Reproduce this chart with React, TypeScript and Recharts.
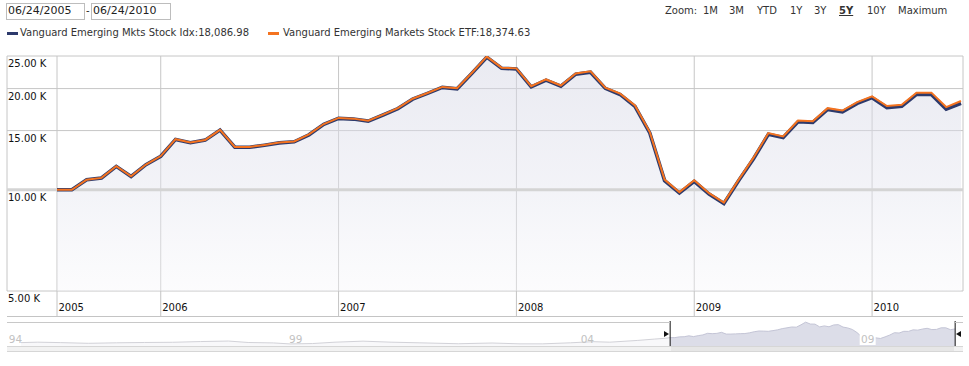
import React from 'react';
import { ComposedChart, AreaChart, Area, Line, XAxis, YAxis, CartesianGrid, ReferenceLine } from 'recharts';

const FONT = '"DejaVu Sans", Verdana, sans-serif';

const months = [
  '2005-06','2005-07','2005-08','2005-09','2005-10','2005-11','2005-12',
  '2006-01','2006-02','2006-03','2006-04','2006-05','2006-06','2006-07','2006-08','2006-09','2006-10','2006-11','2006-12',
  '2007-01','2007-02','2007-03','2007-04','2007-05','2007-06','2007-07','2007-08','2007-09','2007-10','2007-11','2007-12',
  '2008-01','2008-02','2008-03','2008-04','2008-05','2008-06','2008-07','2008-08','2008-09','2008-10','2008-11','2008-12',
  '2009-01','2009-02','2009-03','2009-04','2009-05','2009-06','2009-07','2009-08','2009-09','2009-10','2009-11','2009-12',
  '2010-01','2010-02','2010-03','2010-04','2010-05','2010-06','2010-07',
];

const idxValues = [
  10000,10000,10710,10840,11740,10960,11880,12580,14120,13800,
  14050,15050,13380,13380,13570,13790,13890,14570,15650,16310,
  16230,16010,16690,17440,18600,19350,20160,19970,22220,24800,
  22990,22880,20240,21190,20320,22080,22380,20030,19210,17710,
  14760,10650,9780,10600,9710,9100,10650,12370,14630,14300,
  15930,15860,17340,17050,18070,18790,17560,17710,19220,19200,
  17370,18087,
];

const etfValues = [
  10000,10000,10720,10850,11750,10970,11890,12600,14140,13820,
  14070,15080,13410,13410,13600,13820,13920,14610,15690,16360,
  16280,16060,16740,17490,18660,19410,20230,20040,22300,24900,
  23080,22970,20330,21290,20420,22190,22500,20140,19320,17820,
  14850,10720,9840,10670,9770,9160,10720,12460,14740,14410,
  16060,15990,17490,17210,18240,18970,17740,17900,19450,19450,
  17620,18375,
];

const xTickIdx = [0, 7, 19, 31, 43, 55];
const xTickLabels = ['2005', '2006', '2007', '2008', '2009', '2010'];
const yTicks = [5000, 10000, 15000, 20000, 25000];
const yTickLabels = ['5.00 K', '10.00 K', '15.00 K', '20.00 K', '25.00 K'];

const navHistYears = [1993.9,1994.2,1994.6,1995.1,1995.6,1996.1,1996.6,1997.1,1997.6,1997.95,1998.4,1998.7,1999.1,1999.5,2000.0,2000.5,2001.0,2001.7,2002.3,2002.8,2003.2,2003.7,2004.1,2004.4,2004.9,2005.2,2005.4];
const navHistValues = [5200,5600,5200,4500,5000,5300,5500,6200,6700,5300,4900,3900,4300,5600,6600,5600,5000,4100,4800,4000,4000,5000,6100,5600,7300,8600,9400];
const navTickYears = [1993.8, 1998.8, 2004, 2009];
const navTickLabels = ['94', '99', '04', '09'];

const zoomOptions = ['1M', '3M', 'YTD', '1Y', '3Y', '5Y', '10Y', 'Maximum'];
const zoomLeft = [703, 729, 757, 790, 814, 839, 867, 898];
const activeZoom = '5Y';
const startDate = '06/24/2005';
const endDate = '06/24/2010';
const seriesNames = ['Vanguard Emerging Mkts Stock Idx', 'Vanguard Emerging Markets Stock ETF'];
const lastValues = ['18,086.98', '18,374.63'];
const seriesColors = ['#2d3a6c', '#f47320'];

const selStartYear = 2005.477;

const mainData = months.map((m, i) => ({ i, month: m, idx: idxValues[i], etf: etfValues[i] }));

const navData = [
  ...navHistYears.map((y, k) => ({ year: y, all: navHistValues[k], sel: null as number | null })),
  ...months.map((m, i) => ({ year: selStartYear + i / 12, all: i === 0 ? etfValues[0] : null, sel: etfValues[i] })),
];
const selEndYear = selStartYear + (months.length - 1) / 12;

const YTick = (props: any) => {
  const { y, payload } = props;
  const k = yTicks.indexOf(payload.value);
  return (
    <text x={8} y={y + 11} fontSize={10} fill="#111" textAnchor="start" fontFamily={FONT}>
      {yTickLabels[k]}
    </text>
  );
};

const XTick = (props: any) => {
  const { x, y, payload } = props;
  const k = xTickIdx.indexOf(payload.value);
  return (
    <g>
      <line x1={x} x2={x} y1={y} y2={y + 25} stroke="#c4c4c4" strokeWidth={1} />
      <text x={x + 1.5} y={y + 20} fontSize={10} fill="#111" textAnchor="start" fontFamily={FONT}>
        {xTickLabels[k]}
      </text>
    </g>
  );
};

const NavTick = (props: any) => {
  const { x, payload } = props;
  const k = navTickYears.indexOf(payload.value);
  const inSel = payload.value > selStartYear;
  return (
    <g>
      {inSel && <rect x={x - 8} y={13} width={16} height={11} fill="#fff" />}
      <text x={x} y={22} fontSize={10.5} fill="#c2c2c2" textAnchor="middle" fontFamily={FONT}>
        {navTickLabels[k]}
      </text>
    </g>
  );
};

export default function App() {
  const txt: React.CSSProperties = { position: 'absolute', fontFamily: FONT, fontSize: 10, lineHeight: '14px', color: '#333', whiteSpace: 'nowrap' };
  return (
    <div style={{ position: 'absolute', left: 0, top: 0, width: 969, height: 366, background: '#fff', overflow: 'hidden', fontFamily: FONT }}>
      {/* date range inputs */}
      <div style={{ position: 'absolute', left: 6, top: 3, width: 77, height: 15, border: '1px solid #bdbdbd' }} />
      <div style={{ ...txt, left: 8, top: 4, color: '#222', fontSize: 11 }}>{startDate}</div>
      <div style={{ ...txt, left: 86, top: 4, color: '#222' }}>-</div>
      <div style={{ position: 'absolute', left: 91, top: 3, width: 78, height: 15, border: '1px solid #bdbdbd' }} />
      <div style={{ ...txt, left: 93, top: 4, color: '#222', fontSize: 11 }}>{endDate}</div>

      {/* zoom options */}
      <div style={{ ...txt, left: 665, top: 4 }}>Zoom:</div>
      {zoomOptions.map((z, k) => (
        <div key={z} style={{ ...txt, left: zoomLeft[k], top: 4, fontWeight: z === activeZoom ? 'bold' : 'normal', textDecoration: z === activeZoom ? 'underline' : 'none' }}>{z}</div>
      ))}

      {/* legend */}
      <div style={{ position: 'absolute', left: 7, top: 32, width: 11, height: 3, background: seriesColors[0] }} />
      <div style={{ ...txt, left: 20, top: 26 }}>{seriesNames[0]}:{lastValues[0]}</div>
      <div style={{ position: 'absolute', left: 268, top: 32, width: 11, height: 3, background: seriesColors[1] }} />
      <div style={{ ...txt, left: 283, top: 26 }}>{seriesNames[1]}:{lastValues[1]}</div>

      {/* main chart */}
      <div style={{ position: 'absolute', left: 0, top: 0 }}>
        <ComposedChart width={969} height={316} data={mainData} margin={{ top: 56, right: 6, bottom: 0, left: 6 }}>
          <defs>
            <linearGradient id="fillGrad" x1="0" y1="0" x2="0" y2="1">
              <stop offset="0%" stopColor="#d3d4e3" stopOpacity={0.8} />
              <stop offset="55%" stopColor="#e3e4ee" stopOpacity={0.75} />
              <stop offset="100%" stopColor="#f6f6fa" stopOpacity={0.6} />
            </linearGradient>
          </defs>
          <CartesianGrid stroke="#c6c6c6" strokeWidth={1} />
          <XAxis dataKey="i" type="number" domain={[-3.374, 61.135]} allowDataOverflow ticks={xTickIdx} interval={0}
            height={25} tickLine={false} axisLine={false} tickSize={0} tickMargin={0} tick={(p: any) => <XTick {...p} />} />
          <YAxis type="number" scale="log" domain={[5000, 25000]} allowDataOverflow ticks={yTicks} interval={0}
            width={1} tickLine={false} axisLine={false} tickSize={0} tickMargin={0} tick={(p: any) => <YTick {...p} />} />
          <Area type="linear" dataKey="etf" baseValue={5000} stroke="none" fill="url(#fillGrad)" isAnimationActive={false} />
          <ReferenceLine y={10000} stroke="#d4d4d4" strokeWidth={3} />
          <Line type="linear" dataKey="idx" stroke={seriesColors[0]} strokeWidth={3.6} dot={false} isAnimationActive={false} />
          <Line type="linear" dataKey="etf" stroke={seriesColors[1]} strokeWidth={2} dot={false} isAnimationActive={false} />
        </ComposedChart>
      </div>
      <div style={{ position: 'absolute', left: 7, top: 316, width: 956, height: 1, background: '#c4c4c4' }} />

      {/* navigator */}
      <div style={{ position: 'absolute', left: 7, top: 321 }}>
        <AreaChart width={956} height={28} data={navData} margin={{ top: 0, right: 0, bottom: 0, left: 0 }}>
          <XAxis dataKey="year" type="number" domain={[1993.65, 2010.7]} allowDataOverflow ticks={navTickYears} interval={0}
            height={1} tickLine={false} axisLine={false} tickSize={0} tickMargin={0} tick={(p: any) => <NavTick {...p} />} />
          <YAxis type="number" domain={[0, 26000]} allowDataOverflow hide />
          <Area type="linear" dataKey="all" stroke="#d2d2d8" strokeWidth={1} fill="#f3f3f6" isAnimationActive={false} />
          <Area type="linear" dataKey="sel" stroke="#c4c5d6" strokeWidth={1} fill="#dcdde8" fillOpacity={1} isAnimationActive={false} />
          <ReferenceLine x={selStartYear} stroke="#111" strokeWidth={1} />
          <ReferenceLine x={selEndYear} stroke="#111" strokeWidth={1} />
        </AreaChart>
      </div>
      {/* navigator frame, scrollbar and handles */}
      <div style={{ position: 'absolute', left: 7, top: 322, width: 663, height: 1, background: '#c8c8c8' }} />
      <div style={{ position: 'absolute', left: 955, top: 322, width: 8, height: 1, background: '#c8c8c8' }} />
      <div style={{ position: 'absolute', left: 7, top: 346, width: 956, height: 4, borderTop: '1px solid #d6d6d6', borderBottom: '1px solid #d6d6d6', background: '#f2f2f2' }} />
      <div style={{ position: 'absolute', left: 671, top: 347, width: 283, height: 4, background: '#e6e6e6' }} />
      <div style={{ position: 'absolute', left: 664, top: 331, width: 0, height: 0, borderTop: '3px solid transparent', borderBottom: '3px solid transparent', borderLeft: '5px solid #111' }} />
      <div style={{ position: 'absolute', left: 956, top: 331, width: 0, height: 0, borderTop: '3px solid transparent', borderBottom: '3px solid transparent', borderRight: '5px solid #111' }} />
    </div>
  );
}
